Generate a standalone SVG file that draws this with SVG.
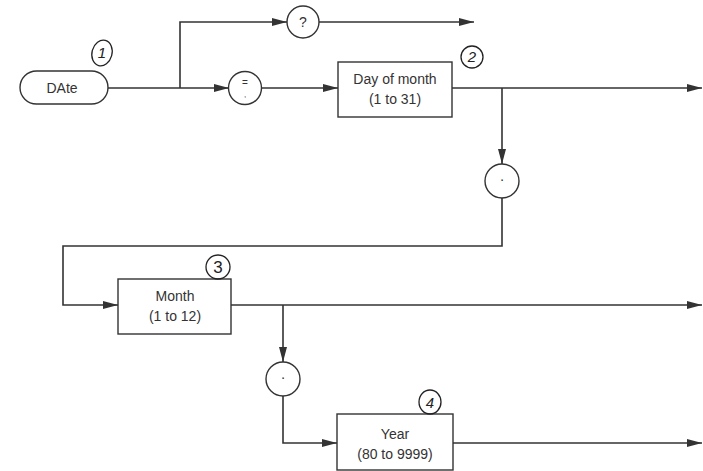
<svg xmlns="http://www.w3.org/2000/svg" width="703" height="471" viewBox="0 0 703 471">
<defs>
<marker id="arr" markerWidth="15" markerHeight="9" refX="15" refY="4.5" orient="auto" markerUnits="userSpaceOnUse">
<path d="M0,0.5 L15,4.5 L0,8.5 Z" fill="#333"/>
</marker>
<style>
.ln{fill:none;stroke:#333;stroke-width:1.6}
.bx{fill:#fff;stroke:#333;stroke-width:1.4}
.t{font-family:"Liberation Sans",Arial,sans-serif;font-size:14px;fill:#333;text-anchor:middle}
.hw{fill:none;stroke:#222;stroke-width:1.3}
.hn{font-family:"Liberation Sans",Arial,sans-serif;font-style:italic;font-size:15px;fill:#222;text-anchor:middle}
</style>
</defs>
<rect width="703" height="471" fill="#fff"/>
<g id="connectors">
<path class="ln" d="M108,88 H180"/>
<path class="ln" d="M180,88 V22 H287" marker-end="url(#arr)"/>
<path class="ln" d="M319,22 H474" marker-end="url(#arr)"/>
<path class="ln" d="M180,88 H229" marker-end="url(#arr)"/>
<path class="ln" d="M262,88 H338" marker-end="url(#arr)"/>
<path class="ln" d="M452,88 H702" marker-end="url(#arr)"/>
<path class="ln" d="M502,88 V164" marker-end="url(#arr)"/>
<path class="ln" d="M502,198 V246 H63 V305 H118" marker-end="url(#arr)"/>
<path class="ln" d="M231,305 H702" marker-end="url(#arr)"/>
<path class="ln" d="M283,305 V362" marker-end="url(#arr)"/>
<path class="ln" d="M283,396 V443 H337" marker-end="url(#arr)"/>
<path class="ln" d="M453,443 H702" marker-end="url(#arr)"/>
</g>
<g id="date">
<rect class="bx" x="20" y="71" width="88" height="33" rx="16.5"/>
<text class="t" x="62" y="93">DAte</text>
</g>
<g id="question">
<circle class="bx" cx="303" cy="22" r="16"/>
<text class="t" x="303" y="27">?</text>
</g>
<g id="equals">
<circle class="bx" cx="245" cy="88" r="16.5"/>
<text class="t" x="245" y="86" style="font-size:10px">=</text>
<text class="t" x="245" y="97" style="font-size:8px">,</text>
</g>
<g id="day">
<rect class="bx" x="338" y="62" width="114" height="55"/>
<text class="t" x="395" y="84">Day of month</text>
<text class="t" x="395" y="104">(1 to 31)</text>
</g>
<g id="dot1">
<circle class="bx" cx="502" cy="181" r="17"/>
<text class="t" x="502" y="184">·</text>
</g>
<g id="month">
<rect class="bx" x="118" y="279" width="113" height="55"/>
<text class="t" x="175" y="301">Month</text>
<text class="t" x="175" y="321">(1 to 12)</text>
</g>
<g id="dot2">
<circle class="bx" cx="283" cy="379" r="17"/>
<text class="t" x="283" y="382">·</text>
</g>
<g id="year">
<rect class="bx" x="337" y="414" width="116" height="56"/>
<text class="t" x="395" y="439">Year</text>
<text class="t" x="395" y="459">(80 to 9999)</text>
</g>
<g id="label1">
<ellipse class="hw" cx="102" cy="53" rx="10" ry="13" transform="rotate(15 102 53)"/>
<text class="hn" x="102" y="58">1</text>
</g>
<g id="label2">
<ellipse class="hw" cx="472" cy="57" rx="11" ry="11"/>
<text class="hn" x="472" y="62">2</text>
</g>
<g id="label3">
<ellipse class="hw" cx="218" cy="267" rx="12" ry="12"/>
<text class="hn" x="218" y="273" style="font-style:normal;font-size:17px">3</text>
</g>
<g id="label4">
<ellipse class="hw" cx="430" cy="402" rx="11" ry="12"/>
<text class="hn" x="430" y="408">4</text>
</g>
</svg>
